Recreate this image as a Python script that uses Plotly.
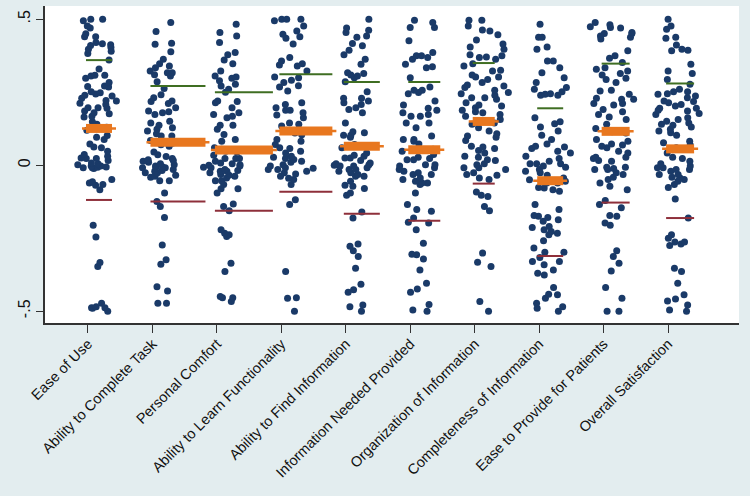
import plotly.graph_objects as go

categories = ["Ease of Use", "Ability to Complete Task", "Personal Comfort",
              "Ability to Learn Functionality", "Ability to Find Information",
              "Information Needed Provided", "Organization of Information",
              "Completeness of Information", "Ease to Provide for Patients",
              "Overall Satisfaction"]

mean_vals = [0.126, 0.079, 0.052, 0.117, 0.065, 0.053, 0.150, -0.053, 0.116, 0.056]
upper_vals = [0.360, 0.271, 0.250, 0.312, 0.285, 0.285, 0.350, 0.195, 0.348, 0.280]
lower_vals = [-0.119, -0.124, -0.156, -0.091, -0.166, -0.190, -0.063, -0.311, -0.128, -0.181]

ease_of_use = [0.50, 0.50, 0.495, 0.47, 0.477, 0.45, 0.44, 0.44, 0.42, 0.416, 0.413, 0.41, 0.403,
               0.397, 0.39, 0.383, 0.36, 0.33, 0.306, 0.308, 0.308, 0.298, 0.283, 0.271, 0.27,
               0.268, 0.252, 0.248, 0.244, 0.24, 0.237, 0.229, 0.22, 0.222, 0.212, 0.208, 0.195,
               0.197, 0.197, 0.186, 0.18, 0.176, 0.168, 0.165, 0.149, 0.14, 0.13, 0.12, 0.102,
               0.096, 0.088, 0.073, 0.062, 0.06, 0.048, 0.037, 0.031, 0.023, 0.023, 0.025, 0.016,
               0.008, 0.002, -0.003, -0.003, -0.006, -0.011, -0.009, -0.007, -0.009, 0.005,
               -0.049, -0.061, -0.057, -0.066, -0.069, -0.084, -0.206, -0.246, -0.333, -0.347,
               -0.488, -0.485, -0.49, -0.473, -0.488, -0.5]
complete_task = [0.489, 0.458, 0.418, 0.414, 0.389, 0.363, 0.348, 0.34, 0.334, 0.323, 0.317,
                 0.317, 0.31, 0.306, 0.286, 0.263, 0.241, 0.231, 0.22, 0.218, 0.211, 0.197,
                 0.186, 0.18, 0.183, 0.174, 0.151, 0.145, 0.137, 0.128, 0.123, 0.117, 0.108,
                 0.1, 0.1, 0.085, 0.075, 0.07, 0.065, 0.045, 0.036, 0.03, 0.023, 0.019, 0.016,
                 0.01, 0.002, 0.005, -0.003, -0.005, -0.009, -0.015, -0.018, -0.021, -0.009,
                 -0.026, -0.026, -0.038, -0.041, 0.014, -0.009, -0.034, -0.053, -0.053, -0.095,
                 -0.124, -0.141, -0.179, -0.273, -0.324, -0.339, -0.416, -0.431, -0.473, -0.473]
personal_comfort = [0.483, 0.455, 0.443, 0.42, 0.386, 0.378, 0.36, 0.348, 0.323, 0.306, 0.302,
                    0.298, 0.289, 0.277, 0.271, 0.26, 0.25, 0.22, 0.214, 0.218, 0.197, 0.18,
                    0.174, 0.168, 0.163, 0.137, 0.137, 0.123, 0.105, 0.088, 0.082, 0.06, 0.055,
                    0.048, 0.045, 0.034, 0.023, 0.023, 0.023, 0.014, 0.008, 0.002, 0.0, -0.003,
                    -0.007, 0.005, -0.015, -0.009, -0.018, -0.021, -0.026, -0.032, -0.034,
                    -0.038, -0.044, -0.021, -0.053, -0.053, -0.066, -0.081, -0.081, -0.095,
                    -0.133, -0.141, -0.156, -0.233, -0.238, -0.244, -0.221, -0.336, -0.364,
                    -0.45, -0.454, -0.467, -0.454]
learn_functionality = [0.5, 0.5, 0.5, 0.495, 0.477, 0.46, 0.449, 0.44, 0.435, 0.415, 0.369,
                       0.357, 0.348, 0.343, 0.34, 0.323, 0.302, 0.3, 0.291, 0.283, 0.272, 0.268,
                       0.254, 0.214, 0.208, 0.197, 0.188, 0.18, 0.188, 0.172, 0.163, 0.145,
                       0.14, 0.134, 0.12, 0.11, 0.104, 0.088, 0.082, 0.071, 0.06, 0.057, 0.048,
                       0.042, 0.031, 0.023, 0.014, 0.01, 0.002, -0.003, -0.009, -0.01, -0.015,
                       -0.021, -0.026, -0.03, -0.015, 0.027, 0.02, -0.038, -0.045, -0.049,
                       -0.066, -0.118, -0.135, -0.364, -0.454, -0.456, -0.5]
find_information = [0.5, 0.47, 0.462, 0.455, 0.443, 0.438, 0.417, 0.409, 0.394, 0.378, 0.363,
                    0.346, 0.317, 0.314, 0.309, 0.306, 0.3, 0.286, 0.252, 0.229, 0.229, 0.22,
                    0.214, 0.208, 0.197, 0.191, 0.18, 0.145, 0.115, 0.111, 0.103, 0.103, 0.096,
                    0.071, 0.065, 0.06, 0.042, 0.034, 0.031, 0.025, 0.025, 0.016, 0.008, 0.005,
                    0.002, 0.0, -0.003, -0.009, -0.003, -0.015, -0.015, -0.021, -0.026, -0.032,
                    -0.038, -0.038, -0.055, -0.069, -0.072, -0.08, -0.095, -0.103, -0.16,
                    -0.181, -0.27, -0.278, -0.293, -0.313, -0.353, -0.408, -0.427, -0.435,
                    -0.479, -0.485, -0.5]
info_needed = [0.497, 0.489, 0.472, 0.472, 0.426, 0.386, 0.375, 0.346, 0.375, 0.369, 0.363,
               0.337, 0.334, 0.3, 0.257, 0.268, 0.257, 0.249, 0.245, 0.22, 0.206, 0.195, 0.188,
               0.18, 0.174, 0.168, 0.168, 0.145, 0.145, 0.128, 0.1, 0.088, 0.088, 0.082, 0.073,
               0.055, 0.048, 0.037, 0.027, 0.023, 0.019, 0.019, 0.002, 0.002, -0.003, -0.009,
               -0.015, -0.021, -0.026, -0.032, -0.032, -0.044, -0.049, -0.055, -0.061, -0.061,
               -0.066, -0.095, -0.135, -0.152, -0.158, -0.181, -0.195, -0.198, -0.221, -0.267,
               -0.305, -0.307, -0.321, -0.359, -0.404, -0.424, -0.435, -0.477, -0.496, -0.5]
organization = [0.497, 0.497, 0.477, 0.463, 0.46, 0.447, 0.429, 0.415, 0.405, 0.397, 0.378,
                0.375, 0.371, 0.369, 0.363, 0.348, 0.34, 0.325, 0.323, 0.309, 0.302, 0.302,
                0.294, 0.283, 0.275, 0.271, 0.266, 0.257, 0.249, 0.24, 0.245, 0.231, 0.231,
                0.226, 0.214, 0.206, 0.203, 0.197, 0.188, 0.183, 0.18, 0.174, 0.168, 0.157,
                0.15, 0.145, 0.14, 0.128, 0.117, 0.108, 0.1, 0.096, 0.085, 0.065, 0.062, 0.057,
                0.05, 0.042, 0.031, 0.027, 0.019, 0.016, 0.005, 0.002, -0.009, -0.009, -0.015,
                -0.026, -0.032, -0.034, -0.044, -0.049, -0.092, -0.107, -0.103, -0.141, -0.156,
                -0.301, -0.332, -0.347, -0.467, -0.5]
completeness = [0.483, 0.438, 0.438, 0.405, 0.397, 0.357, 0.357, 0.334, 0.317, 0.3, 0.283,
                0.266, 0.26, 0.252, 0.24, 0.24, 0.243, 0.245, 0.163, 0.149, 0.142, 0.131, 0.117,
                0.103, 0.088, 0.073, 0.065, 0.062, 0.057, 0.048, 0.042, 0.031, 0.023, 0.014,
                0.005, 0.005, 0.005, -0.003, -0.007, -0.015, -0.021, -0.026, -0.034, -0.044,
                -0.05, -0.055, -0.061, -0.061, -0.076, -0.078, -0.084, -0.089, -0.135, -0.152,
                -0.172, -0.175, -0.179, -0.187, -0.192, -0.21, -0.213, -0.221, -0.227, -0.233,
                -0.238, -0.259, -0.284, -0.298, -0.298, -0.316, -0.33, -0.33, -0.341, -0.359,
                -0.37, -0.376, -0.419, -0.442, -0.444, -0.456, -0.473, -0.485, -0.49, -0.5]
ease_to_provide = [0.489, 0.481, 0.472, 0.47, 0.474, 0.451, 0.455, 0.451, 0.443, 0.438, 0.432,
                   0.392, 0.375, 0.366, 0.352, 0.334, 0.329, 0.323, 0.314, 0.309, 0.298, 0.294,
                   0.283, 0.257, 0.254, 0.243, 0.226, 0.229, 0.226, 0.211, 0.211, 0.206, 0.191,
                   0.183, 0.174, 0.165, 0.157, 0.14, 0.126, 0.123, 0.115, 0.11, 0.088, 0.082,
                   0.073, 0.069, 0.065, 0.06, 0.048, 0.042, 0.027, 0.027, 0.023, 0.016, 0.014,
                   -0.007, -0.007, -0.015, -0.015, -0.011, -0.026, -0.032, -0.041, -0.049,
                   -0.061, -0.072, -0.084, -0.121, -0.135, -0.146, -0.172, -0.175, -0.198,
                   -0.206, -0.293, -0.313, -0.336, -0.362, -0.419, -0.456, -0.5, -0.5]
overall_satisfaction = [0.5, 0.477, 0.466, 0.438, 0.435, 0.412, 0.397, 0.392, 0.394, 0.346,
                        0.323, 0.314, 0.294, 0.277, 0.26, 0.252, 0.252, 0.245, 0.243, 0.237,
                        0.231, 0.22, 0.218, 0.214, 0.208, 0.203, 0.195, 0.195, 0.188, 0.186,
                        0.177, 0.174, 0.163, 0.157, 0.151, 0.145, 0.14, 0.137, 0.131, 0.123,
                        0.117, 0.111, 0.103, 0.082, 0.077, 0.069, 0.06, 0.055, 0.042, 0.027,
                        0.023, 0.014, 0.005, -0.003, -0.009, -0.015, -0.015, -0.009, -0.021,
                        -0.032, -0.032, -0.041, -0.044, -0.049, -0.055, -0.066, -0.076, -0.116,
                        -0.181, -0.238, -0.25, -0.263, -0.263, -0.27, -0.275, -0.353, -0.364,
                        -0.404, -0.444, -0.458, -0.465, -0.479, -0.496, -0.5]

series = [ease_of_use, complete_task, personal_comfort, learn_functionality, find_information,
          info_needed, organization, completeness, ease_to_provide, overall_satisfaction]

# ---- styling ----
NAVY = "#1a3a68"
ORANGE = "#e8771f"
GREEN = "#3f6e22"
MAROON = "#8e2f3a"
BG = "#e3edef"
FONT = "Liberation Sans, Arial, sans-serif"

PX_PER_CAT = 64.44
seg_end_px = [24, 53, 56, 51, 34, 30, 20, 24, 26, 26]   # visual segment lengths
seg_start = -2 / PX_PER_CAT

fig = go.Figure()

for i, vals in enumerate(series):
    pos = i + 1
    fig.add_trace(go.Box(
        x=[pos] * len(vals), y=vals,
        boxpoints="all", jitter=1.0, pointpos=0.4, width=0.78,
        fillcolor="rgba(0,0,0,0)", line=dict(width=0, color="rgba(0,0,0,0)"),
        whiskerwidth=0,
        marker=dict(color=NAVY, size=7, line=dict(width=0)),
        hoveron="points", showlegend=False,
    ))

def seg_xy(values, extra=0.0):
    xs, ys = [], []
    for i, v in enumerate(values):
        pos = i + 1
        end = seg_end_px[i] / PX_PER_CAT
        xs += [pos + seg_start - extra, pos + end + extra, None]
        ys += [v, v, None]
    return xs, ys

x, y = seg_xy(upper_vals)
fig.add_trace(go.Scatter(x=x, y=y, mode="lines", line=dict(color=GREEN, width=2),
                         showlegend=False, hoverinfo="skip"))
x, y = seg_xy(lower_vals)
fig.add_trace(go.Scatter(x=x, y=y, mode="lines", line=dict(color=MAROON, width=2),
                         showlegend=False, hoverinfo="skip"))
x, y = seg_xy(mean_vals, extra=4 / PX_PER_CAT)
fig.add_trace(go.Scatter(x=x, y=y, mode="lines", line=dict(color=ORANGE, width=2.5),
                         showlegend=False, hoverinfo="skip"))
x, y = seg_xy(mean_vals)
fig.add_trace(go.Scatter(x=x, y=y, mode="lines", line=dict(color=ORANGE, width=9),
                         showlegend=False, hoverinfo="skip"))

fig.update_layout(
    width=750, height=496,
    margin=dict(l=45, r=11, t=6, b=173),
    paper_bgcolor=BG, plot_bgcolor="white",
    showlegend=False,
    boxmode="overlay",
    font=dict(family=FONT, color="#111111"),
    xaxis=dict(range=[0.333, 11.10], tickmode="array", tickvals=list(range(1, 11)),
               ticktext=categories, tickangle=-45, ticks="outside", ticklen=8,
               tickcolor="#333333", tickwidth=1.3, showline=True, linecolor="#333333",
               linewidth=1.5, showgrid=False, zeroline=False, ticklabelstandoff=-3,
               tickfont=dict(family=FONT, size=14.5, color="#111111")),
    yaxis=dict(range=[-0.5405, 0.5454], tickmode="array", tickvals=[0.5, 0, -0.5],
               ticktext=[".5", "0", "-.5"], tickangle=-90, ticks="outside", ticklen=7,
               tickcolor="#333333", tickwidth=1.3, showline=True, linecolor="#333333",
               linewidth=1.5, showgrid=False, zeroline=False, ticklabelstandoff=0,
               tickfont=dict(family=FONT, size=16, color="#111111")),
)

fig.write_html("out.html", config={"displayModeBar": False},
               post_script="document.body.style.margin='0';document.body.style.background='%s';" % BG)
